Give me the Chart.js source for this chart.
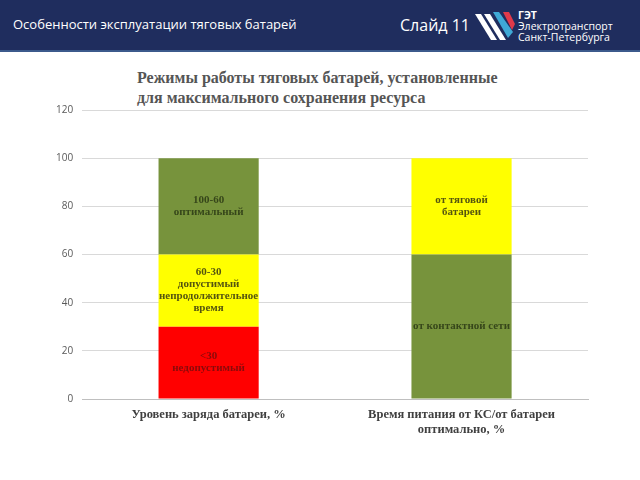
<!DOCTYPE html>
<html>
<head>
<meta charset="utf-8">
<script src="https://cdn.jsdelivr.net/npm/chart.js@4/dist/chart.umd.min.js"></script>
<style>
body { margin:0; width:640px; height:480px; background:#fff; overflow:hidden; position:relative; font-family:"Open Sans", "DejaVu Sans", sans-serif; }
#head { position:absolute; left:0; top:0; width:640px; height:50px; background:#1f2d5e; border-bottom:2px solid #3c5a8c; }
#head .t { position:absolute; left:13px; top:15px; color:#fff; font-size:13px; }
#head .s { position:absolute; left:400px; top:14px; color:#fff; font-size:16px; }
#head .l { position:absolute; left:518px; top:10px; color:#fff; font-size:10.5px; line-height:11px; }
#logo { position:absolute; left:473px; top:10px; }
#ttl { position:absolute; left:137px; top:68px; color:#555; font-family:"Liberation Serif", "DejaVu Serif", serif; font-weight:bold; font-size:16px; line-height:20px; }
#wrap { position:absolute; left:0; top:52px; width:640px; height:428px; }
</style>
</head>
<body>
<div id="head">
  <div class="t">Особенности эксплуатации тяговых батарей</div>
  <div class="s">Слайд 11</div>
  <svg id="logo" width="44" height="32">
    <polygon points="2,4 8,4 24,30 18,30" fill="#fff"/>
    <polygon points="11,4 17,4 33,30 27,30" fill="#fff"/>
    <polygon points="20,2 26,2 40,22 35,28" fill="#3fa9d6"/>
    <polygon points="30,2 36,2 42,14 39,20" fill="#e03a4a"/>
  </svg>
  <div class="l"><b>ГЭТ</b><br>Электротранспорт<br>Санкт-Петербурга</div>
</div>
<div id="ttl">Режимы работы тяговых батарей, установленные<br>для максимального сохранения ресурса</div>
<div id="wrap"><canvas id="canvas"></canvas></div>
<script>
var categories = [["Уровень заряда батареи, %"], ["Время питания от КС/от батареи", "оптимально, %"]];
var yTicks = [0, 20, 40, 60, 80, 100, 120];

// segments stacked from bottom
var bottomValues = [30, 60];
var middleValues = [30, 40];
var topValues = [40, 0];

var bottomColors = ['#ff0000', '#77933c'];
var middleColors = ['#ffff00', '#ffff00'];
var topColors = ['#77933c', '#77933c'];

var bottomLabels = [["<30", "недопустимый"], ["от контактной сети"]];
var middleLabels = [["60-30", "допустимый", "непродолжительное", "время"], ["от тяговой", "батареи"]];
var topLabels = [["100-60", "оптимальный"], []];

var labelColors = { '#ff0000': '#8a0a0a', '#ffff00': '#55550f', '#77933c': '#36461a' };

var segLabels = {
	id: 'segLabels',
	afterDatasetsDraw: function(chart) {
		var c = chart.ctx;
		c.save();
		c.font = 'bold 11px "Liberation Serif", "DejaVu Serif", serif';
		c.textAlign = 'center';
		c.textBaseline = 'middle';
		chart.data.datasets.forEach(function(ds, di) {
			var meta = chart.getDatasetMeta(di);
			meta.data.forEach(function(bar, i) {
				var lines = ds.segText[i];
				if (!lines || !lines.length) return;
				var cy = (bar.y + bar.base) / 2;
				var lh = 12;
				c.fillStyle = labelColors[ds.backgroundColor[i]];
				for (var k = 0; k < lines.length; k++) {
					c.fillText(lines[k], bar.x, cy + (k - (lines.length - 1) / 2) * lh);
				}
			});
		});
		c.restore();
	}
};

var ctx = document.getElementById("canvas");
window.myCharts = new Chart(ctx, {
	type: 'bar',
	data: {
		labels: categories,
		datasets: [
			{ data: bottomValues, backgroundColor: bottomColors, segText: bottomLabels, barPercentage: 0.396, categoryPercentage: 1 },
			{ data: middleValues, backgroundColor: middleColors, segText: middleLabels, barPercentage: 0.396, categoryPercentage: 1 },
			{ data: topValues, backgroundColor: topColors, segText: topLabels, barPercentage: 0.396, categoryPercentage: 1 }
		]
	},
	options: {
		responsive: true,
		maintainAspectRatio: false,
		animation: false,
		layout: { padding: { top: 58, left: 47, right: 52, bottom: 43 } },
		plugins: { legend: { display: false }, tooltip: { enabled: false } },
		scales: {
			x: {
				stacked: true,
				grid: { display: false },
				border: { color: '#bfbfbf', width: 1 },
				ticks: { color: '#404040', font: { family: '"Liberation Serif", "DejaVu Serif", serif', weight: 'bold', size: 12.5 }, padding: 0, maxRotation: 0 }
			},
			y: {
				stacked: true,
				min: 0,
				max: 120,
				afterBuildTicks: function(axis) { axis.ticks = yTicks.map(function(v) { return { value: v }; }); },
				grid: { color: '#d9d9d9', drawTicks: false },
				border: { display: false },
				ticks: { color: '#595959', font: { family: '"Open Sans", sans-serif', size: 10 }, padding: 9 }
			}
		}
	},
	plugins: [segLabels]
});
</script>
</body>
</html>
